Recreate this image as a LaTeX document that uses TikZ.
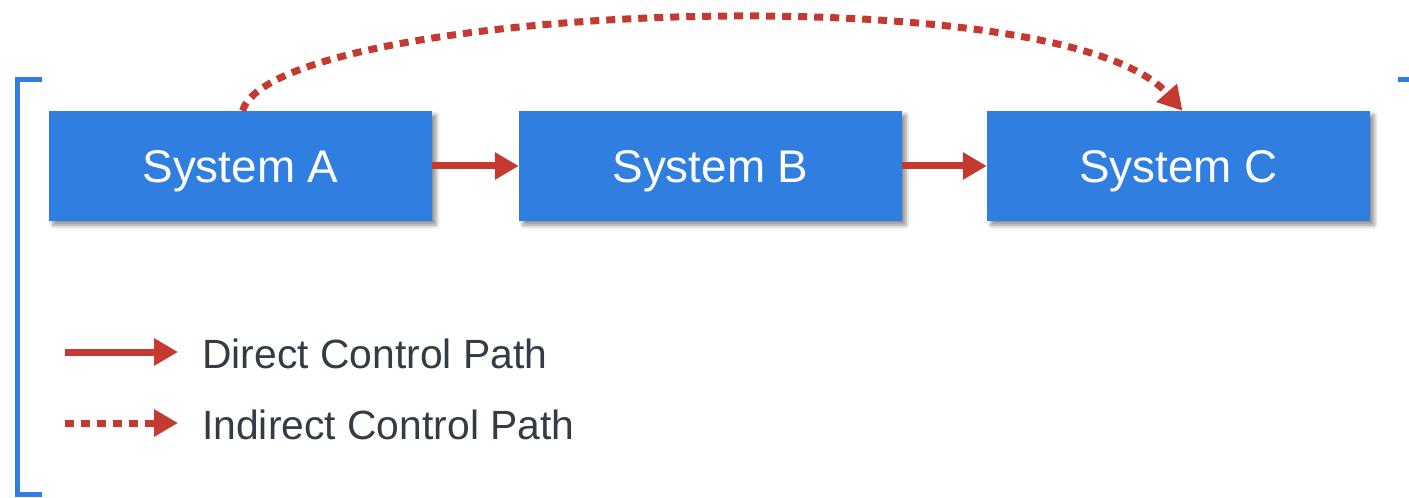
\documentclass[tikz,border=0pt]{standalone}
\usepackage{fontspec}
\setmainfont{Liberation Sans}
\usetikzlibrary{arrows.meta,shadows.blur}
\definecolor{sysblue}{HTML}{2F7EE0}
\definecolor{pathred}{HTML}{C43A31}
\definecolor{labelgray}{HTML}{333B45}
\tikzset{
  sysbox/.style={fill=sysblue, draw=none, minimum width=383bp, minimum height=110bp,
    inner sep=0pt, text=white, font=\fontsize{46}{55}\selectfont,
    text height=34bp, text depth=0pt,
    blur shadow={shadow xshift=4bp, shadow yshift=-4bp, shadow blur radius=4bp, shadow opacity=45}},
  direct/.style={pathred, line width=7bp, -{Triangle[length=24bp,width=26bp]}},
  indirect/.style={pathred, line width=7bp, dash pattern=on 9bp off 7bp,
    -{Triangle[length=24bp,width=26bp]}},
  legendtext/.style={text=labelgray, anchor=west, inner sep=0pt,
    text height=30bp, text depth=0pt, font=\fontsize{41}{48}\selectfont},
  bracket/.style={sysblue, line width=5bp}
}
\begin{document}
\begin{tikzpicture}[x=1bp,y=-1bp]
\useasboundingbox (0,0) rectangle (1409,498);
% enclosing bracket
\draw[bracket] (42,80) -- (17.5,80) -- (17.5,494) -- (42,494);
\draw[bracket] (1398,80) -- (1412,80);
% systems
\node[sysbox] (a) at (240.5,166) {System A};
\node[sysbox] (b) at (710.5,166) {System B};
\node[sysbox] (c) at (1178.5,166) {System C};
% control paths
\draw[direct] (a.east) -- (b.west);
\draw[direct] (b.east) -- (c.west);
\draw[indirect] ([xshift=2bp]a.north) .. controls (275,5) and (1060,-28) .. ([xshift=4bp]c.north);
% legend
\coordinate (d0) at (65,352);
\coordinate (d1) at (178,352);
\coordinate (i0) at (65,423);
\coordinate (i1) at (178,423);
\draw[direct] (d0) -- (d1);
\draw[indirect] (i0) -- (i1);
\node[legendtext] (dl) at (202,353) {Direct Control Path};
\node[legendtext] (il) at (202,424) {Indirect Control Path};
\end{tikzpicture}
\end{document}
